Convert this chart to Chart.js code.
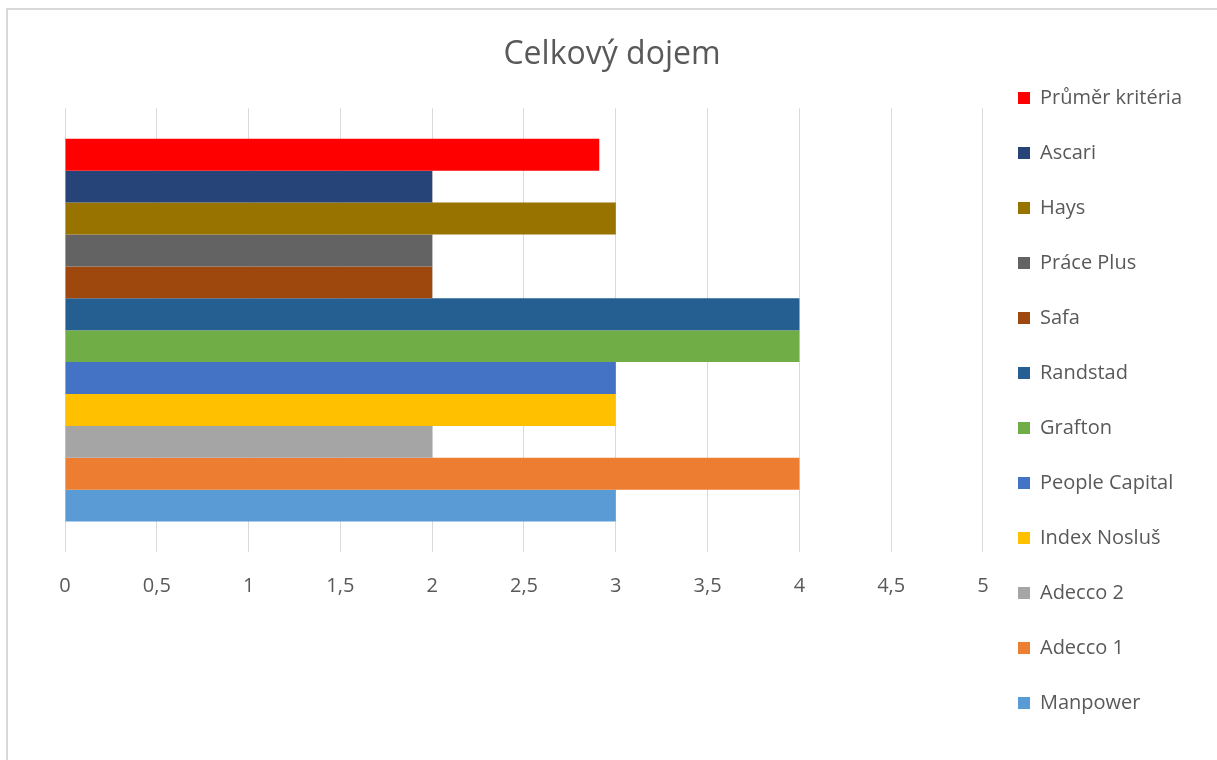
<!DOCTYPE html>
<html lang="cs">

<head>
    <meta charset="UTF-8">
    <title>Celkový dojem</title>
    <style>
        body { margin: 0; background: #fff; }
        #wrap { position: relative; width: 1217px; height: 760px; }
        #ramecek {
            position: absolute; left: 6px; top: 8px; right: 0; bottom: 0;
            border-top: 2px solid #d9d9d9; border-left: 2px solid #d9d9d9;
            pointer-events: none;
        }
    </style>
</head>

<body>
    <div id="wrap">
        <canvas id="myChart"></canvas>
        <div id="ramecek"></div>
    </div>
    <script src="https://cdn.jsdelivr.net/npm/chart.js"></script>
    <script>
        // poradi jako v legende (shora dolu)
        const agentury = ['Průměr kritéria', 'Ascari', 'Hays', 'Práce Plus', 'Safa', 'Randstad',
            'Grafton', 'People Capital', 'Index Nosluš', 'Adecco 2', 'Adecco 1', 'Manpower'];
        const hodnoty = [2.91, 2, 3, 2, 2, 4, 4, 3, 3, 2, 4, 3];
        const barvy = ['#ff0000', '#264478', '#997300', '#636363', '#9e480e', '#255e91',
            '#70ad47', '#4472c4', '#ffc000', '#a5a5a5', '#ed7d31', '#5b9bd5'];
        const popiskyX = ['0', '0,5', '1', '1,5', '2', '2,5', '3', '3,5', '4', '4,5', '5'];

        const ctx = document.getElementById('myChart');
        const pismo = '"Open Sans", Lato, sans-serif';
        const seda = '#595959';

        let datasets = [];
        for (let i = 0; i < agentury.length; i++) {
            datasets.push({
                label: agentury[i],
                data: [hodnoty[i]],
                backgroundColor: barvy[i],
                borderWidth: 0,
                barPercentage: 1,
                categoryPercentage: 0.863
            });
        }

        new Chart(ctx, {
            type: 'bar',
            data: {
                labels: ['Celkový dojem'],
                datasets: datasets
            },
            options: {
                indexAxis: 'y',
                responsive: true,
                maintainAspectRatio: false,
                animation: false,
                layout: {
                    padding: { left: 32, right: 25, top: 0, bottom: 12 }
                },
                scales: {
                    x: {
                        min: 0,
                        max: 5,
                        ticks: {
                            stepSize: 0.5,
                            padding: 22,
                            color: seda,
                            font: { family: pismo, size: 20 },
                            callback: (v, i) => popiskyX[i]
                        },
                        grid: { color: '#d9d9d9', drawTicks: false },
                        border: { display: false },
                        afterFit: (scale) => { scale.height = 196; }
                    },
                    y: {
                        // jen misto vlevo od grafu, bez popisku
                        ticks: { display: false },
                        grid: { display: false },
                        border: { display: false },
                        afterFit: (scale) => { scale.width = 33; }
                    }
                },
                plugins: {
                    title: {
                        display: true,
                        text: 'Celkový dojem',
                        color: seda,
                        font: { family: pismo, size: 32, weight: 'normal' },
                        padding: { top: 36, bottom: 34 }
                    },
                    legend: {
                        position: 'right',
                        align: 'end',
                        labels: {
                            boxWidth: 12,
                            boxHeight: 12,
                            padding: 35,
                            color: seda,
                            font: { family: pismo, size: 20 }
                        }
                    },
                    tooltip: { enabled: false }
                }
            }
        });
    </script>
</body>

</html>
